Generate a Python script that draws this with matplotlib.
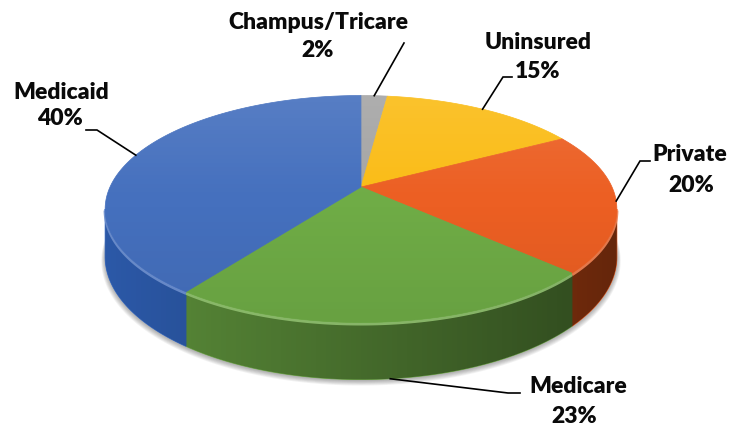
import numpy as np
import matplotlib
matplotlib.use('Agg')
import matplotlib.pyplot as plt
from matplotlib.path import Path
from matplotlib.patches import PathPatch, Polygon
from matplotlib.colors import to_rgb

# ---------------- data ----------------
categories = ['Champus/Tricare', 'Uninsured', 'Private', 'Medicare', 'Medicaid']
shares = [2, 15, 20, 23, 40]
colors = ['#a5a5a5', '#fabc16', '#ec5f23', '#6fac46', '#4570be']
side_colors = ['#a5a5a5', '#fabc16', '#f05a1a', '#6fac46', '#356ccc']

# ---------------- layout (pixels) ----------------
W, H = 730, 426
CX, CY = 361, 187          # projected pie centre
A, B, K, D = 251, 109.2, 0.194, 46   # radii, perspective, depth

# label positions: (name x, name baseline, pct x, pct baseline)
label_pos = [(318, 29, 318, 57),
             (538, 49, 538, 78),
             (690, 161, 691, 192),
             (578, 393, 574, 423),
             (61, 99, 60, 125)]
# leader line extra points (after the anchor on the pie)
leader_pts = [[(404, 43)],
              [(503, 77), (512, 77)],
              [(640, 161), (650, 161)],
              [(508, 393), (520, 393)],
              [(97, 130), (86, 130)]]
leader_on_side = [False, False, False, True, False]

FONT = ['Lato', 'DejaVu Sans']


def proj(t, h=0.0):
    w = 1 + K * np.sin(t)
    x = CX + A * np.cos(t) / w
    y = CY - B * np.sin(t) / w + D * h / w
    return x, y


fig = plt.figure(figsize=(7.3, 4.26), dpi=100)
ax = fig.add_axes([0, 0, 1, 1])
ax.set_xlim(0, W)
ax.set_ylim(H, 0)
ax.axis('off')

total = float(sum(shares))
bounds = np.radians(90 - 360 * np.cumsum([0] + shares) / total)
starts, ends = bounds[:-1], bounds[1:]

T1, T2 = -np.pi + np.arcsin(K), -np.arcsin(K)

# ---------------- shadow ----------------
tt = np.linspace(0, 2 * np.pi, 400)
bx, by = proj(tt, 1.0)
bcx, bcy = bx.mean(), by.mean()
for i in range(7):
    s = 1.0 + 0.0025 * i
    poly = Polygon(np.column_stack([bcx + (bx - bcx) * s, bcy + (by - bcy) * s + 1.0 + 0.5 * i]),
                   closed=True, facecolor='#000000', edgecolor='none', alpha=0.05, zorder=1)
    ax.add_patch(poly)

# ---------------- sides ----------------
for i, c in enumerate(side_colors):
    lo, hi = max(ends[i], T1), min(starts[i], T2)
    if lo >= hi:
        continue
    t = np.linspace(lo, hi, 120)
    xt, yt = proj(t, 0)
    xb, yb = proj(t[::-1], 1)
    verts = np.column_stack([np.r_[xt, xb], np.r_[yt, yb]])
    ax.add_patch(Polygon(verts, closed=True, facecolor=c, edgecolor=c, lw=0.6, zorder=2))

# side shading overlay (darker towards the right)
t = np.linspace(T1, T2, 300)
xt, yt = proj(t, 0)
xb, yb = proj(t[::-1], 1)
side_path = Path(np.column_stack([np.r_[xt, xb], np.r_[yt, yb]]))
side_clip = PathPatch(side_path, facecolor='none', edgecolor='none', transform=ax.transData)
ax.add_patch(side_clip)
x0, x1, y0, y1 = 95, 630, 190, 400
xs = np.linspace(x0, x1, 400)
f = 0.82 - 0.40 * np.clip((xs - 105) / 512.0, 0, 1)
img = np.zeros((2, xs.size, 4))
img[..., 3] = 1 - f
im = ax.imshow(img, extent=(x0, x1, y1, y0), aspect='auto', interpolation='bilinear', zorder=3)
im.set_clip_path(side_clip)

# bevel highlight along front rim
for i, c in enumerate(colors):
    lo, hi = max(ends[i], T1), min(starts[i], T2)
    if lo >= hi:
        continue
    t = np.linspace(lo, hi, 120)
    xt, yt = proj(t, 0)
    rgb = np.array(to_rgb(c))
    hl = rgb + (1 - rgb) * 0.22
    ax.plot(xt, yt + 1.5, color=hl, lw=2.2, alpha=0.9, zorder=4, solid_capstyle='butt')

# ---------------- top face ----------------
for i, c in enumerate(colors):
    n = max(int(abs(starts[i] - ends[i]) * 80), 4)
    t = np.linspace(starts[i], ends[i], n)
    xt, yt = proj(t, 0)
    verts = np.column_stack([np.r_[CX, xt], np.r_[CY, yt]])
    ax.add_patch(Polygon(verts, closed=True, facecolor=c, edgecolor=c, lw=0.5, zorder=5))

tx, ty = proj(tt, 0)
top_clip = PathPatch(Path(np.column_stack([tx, ty])), facecolor='none', edgecolor='none',
                     transform=ax.transData)
ax.add_patch(top_clip)
gy0, gy1 = 90, 330
ys = np.linspace(gy0, gy1, 300)
g = np.zeros((ys.size, 2, 4))
up = np.clip((200 - ys) / 105.0, 0, 1)
down = np.clip((ys - 200) / 130.0, 0, 1)
g[:, :, 0] = np.where(ys < 200, 1.0, 0.0)[:, None]
g[:, :, 1] = g[:, :, 0]
g[:, :, 2] = g[:, :, 0]
g[:, :, 3] = (0.10 * up + 0.07 * down)[:, None]
im2 = ax.imshow(g, extent=(95, 630, gy1, gy0), aspect='auto', interpolation='bilinear', zorder=6)
im2.set_clip_path(top_clip)

# ---------------- labels & leaders ----------------
for i, name in enumerate(categories):
    mid = (starts[i] + ends[i]) / 2
    ax_, ay_ = proj(mid, 1.0 if leader_on_side[i] else 0.0)
    pts = [(ax_, ay_)] + leader_pts[i]
    ax.plot([p[0] for p in pts], [p[1] for p in pts], color='black', lw=1.2, zorder=7,
            solid_joinstyle='miter')
    nx, nb, px, pb = label_pos[i]
    ax.text(nx, nb, name, ha='center', va='baseline', fontsize=16.5, fontweight='heavy',
            family=FONT, color='#0a0a0a', zorder=8)
    ax.text(px, pb, f'{shares[i]}%', ha='center', va='baseline', fontsize=16.5,
            fontweight='heavy', family=FONT, color='#0a0a0a', zorder=8)

fig.savefig('out.png', dpi=100, facecolor='white')
